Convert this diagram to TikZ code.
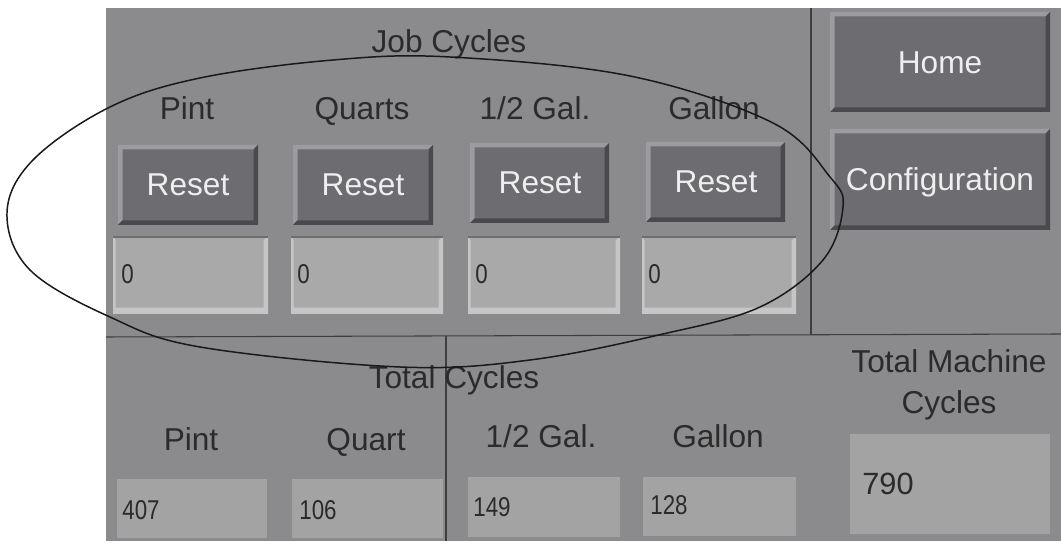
\documentclass[tikz,border=0pt]{standalone}
\usepackage{fontspec}
\setmainfont{Liberation Sans}
\newfontfamily\narrowfont[FakeStretch=0.82]{Liberation Sans}
\usetikzlibrary{fit}
\definecolor{panel}{HTML}{8B8B8D}
\definecolor{btnfill}{HTML}{6C6C71}
\definecolor{btnlight}{HTML}{9C9CA0}
\definecolor{btndark}{HTML}{4A4A4E}
\definecolor{fldfill}{HTML}{A9A9A9}
\definecolor{fldlight}{HTML}{C6C6C6}
\definecolor{flddark}{HTML}{6E6E6E}
\definecolor{flatfill}{HTML}{A3A3A3}
\definecolor{txtdark}{HTML}{2B2B2B}
\definecolor{txtlight}{HTML}{EEEEEE}
\definecolor{divider}{HTML}{3E3E3E}
\newcommand{\bw}{0.09cm}
\tikzset{
  raised/.style={inner sep=0pt, outer sep=0pt, fill=btnfill, path picture={
    \fill[btnlight] (path picture bounding box.south west) -- (path picture bounding box.north west) -- (path picture bounding box.north east) -- ([xshift=-\bw,yshift=-\bw]path picture bounding box.north east) -- ([xshift=\bw,yshift=-\bw]path picture bounding box.north west) -- ([xshift=\bw,yshift=\bw]path picture bounding box.south west) -- cycle;
    \fill[btndark] (path picture bounding box.south west) -- (path picture bounding box.south east) -- (path picture bounding box.north east) -- ([xshift=-\bw,yshift=-\bw]path picture bounding box.north east) -- ([xshift=-\bw,yshift=\bw]path picture bounding box.south east) -- ([xshift=\bw,yshift=\bw]path picture bounding box.south west) -- cycle;
  }},
  sunken/.style={inner sep=0pt, outer sep=0pt, fill=fldfill, path picture={
    \fill[fldlight] (path picture bounding box.north west) -- (path picture bounding box.south west) -- (path picture bounding box.south east) -- (path picture bounding box.north east) -- ([xshift=-\bw,yshift=-\bw]path picture bounding box.north east) -- ([xshift=-\bw,yshift=1.4*\bw]path picture bounding box.south east) -- ([xshift=0.6*\bw,yshift=1.4*\bw]path picture bounding box.south west) -- ([xshift=0.6*\bw,yshift=-\bw]path picture bounding box.north west) -- cycle;
    \fill[flddark] (path picture bounding box.north west) -- (path picture bounding box.north east) -- ([yshift=-0.04cm]path picture bounding box.north east) -- ([yshift=-0.04cm]path picture bounding box.north west) -- cycle;
  }},
  flat/.style={inner sep=0pt, outer sep=0pt, fill=flatfill},
  lbl/.style={inner sep=0pt, text=txtdark, anchor=base, font=\fontsize{18}{20}\selectfont},
  btntxt/.style={inner sep=0pt, text=txtlight, anchor=base, font=\fontsize{18}{20}\selectfont},
  val/.style={inner sep=0pt, text=txtdark, anchor=base west, font=\narrowfont\fontsize{15.5}{17}\selectfont},
  divline/.style={draw=divider, line width=0.6pt},
  loop/.style={draw=black!90, line width=0.85pt},
}
\begin{document}
\begin{tikzpicture}[x=0.02cm, y=-0.02cm]
\useasboundingbox (0,0) rectangle (1061,546);
% panel
\fill[panel] (106,8) rectangle (1061,541);
% dividers
\coordinate (hl) at (106,337);
\coordinate (hr) at (1061,334);
\coordinate (vt) at (811,8);
\coordinate (vb) at (811,335);
\coordinate (wt) at (446,336);
\coordinate (wb) at (446,541);
\draw[divline] (hl) -- (hr);
\draw[divline] (vt) -- (vb);
\draw[divline] (wt) -- (wb);
% job cycles section
\node[lbl] (jc) at (449,53) {Job Cycles};
\node[lbl] (lp) at (187,120) {Pint};
\node[lbl] (lq) at (362,120) {Quarts};
\node[lbl] (lh) at (535,120) {1/2 Gal.};
\node[lbl] (lg) at (714,120) {Gallon};
\node[raised, fit={(118,145) (258,225)}] (b1) {};
\node[raised, fit={(293,145) (433,225)}] (b2) {};
\node[raised, fit={(470,143) (609,223)}] (b3) {};
\node[raised, fit={(646,142) (785,222)}] (b4) {};
\node[btntxt] (r1) at (188,196) {Reset};
\node[btntxt] (r2) at (363,196) {Reset};
\node[btntxt] (r3) at (540,194) {Reset};
\node[btntxt] (r4) at (716,193) {Reset};
\node[sunken, fit={(113,236) (268,314)}] (f1) {};
\node[sunken, fit={(291,236) (443,314)}] (f2) {};
\node[sunken, fit={(468,236) (620,314)}] (f3) {};
\node[sunken, fit={(642,236) (796,314)}] (f4) {};
\node[val] (v1) at (121,284) {0};
\node[val] (v2) at (297,284) {0};
\node[val] (v3) at (475,284) {0};
\node[val] (v4) at (648,284) {0};
% right buttons
\node[raised, fit={(830,12) (1050,112)}] (home) {};
\node[raised, fit={(830,129) (1050,230)}] (conf) {};
\node[btntxt] (th) at (940,74) {Home};
\node[btntxt] (tc) at (940,191) {Configuration};
% total cycles section
\node[lbl] (tt) at (454,389) {Total Cycles};
\node[lbl] (bp) at (191,451) {Pint};
\node[lbl] (bq) at (366,451) {Quart};
\node[lbl] (bh) at (541,448) {1/2 Gal.};
\node[lbl] (bg) at (718,448) {Gallon};
\node[flat, fit={(117,479) (267,538)}] (t1) {};
\node[flat, fit={(292,479) (443,538)}] (t2) {};
\node[flat, fit={(468,477) (620,537)}] (t3) {};
\node[flat, fit={(643,477) (796,536)}] (t4) {};
\node[val] (n1) at (122,520) {407};
\node[val] (n2) at (299,520) {106};
\node[val] (n3) at (473,517) {149};
\node[val] (n4) at (650,515) {128};
\node[lbl] (tm1) at (949,373) {Total Machine};
\node[lbl] (tm2) at (949,414) {Cycles};
\node[flat, fit={(850,434) (1050,534)}] (tm) {};
\node[val, font=\fontsize{17.5}{19}\selectfont] (n5) at (862,495) {790};
% hand-drawn loop
\draw[loop] plot[smooth cycle, tension=0.6] coordinates {
 (7,213) (33,160) (110,107) (200,78) (333,60) (450,57) (630,76) (773,123)
 (830,177) (843,207) (823,260) (760,307) (663,334) (530,360) (400,367)
 (200,347) (110,317) (30,270)};
\end{tikzpicture}
\end{document}
